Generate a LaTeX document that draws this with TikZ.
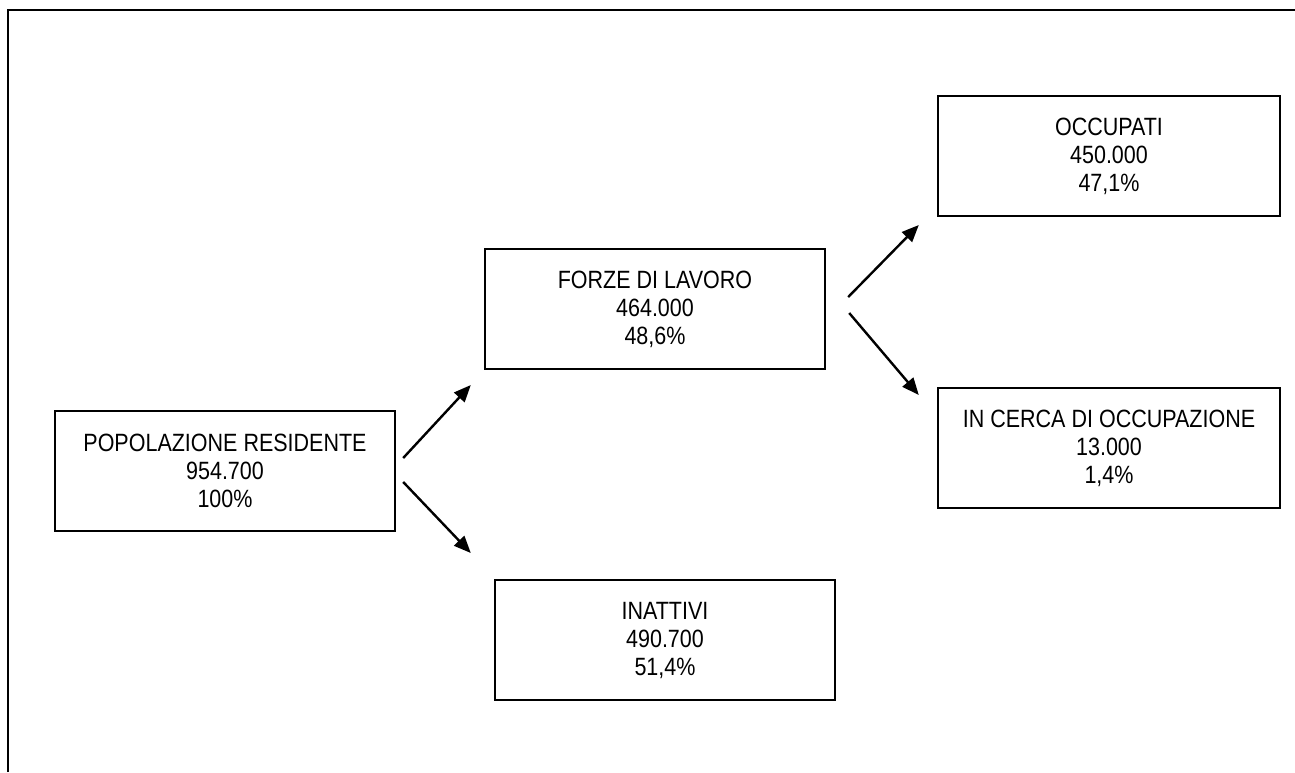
\documentclass[tikz,border=0pt]{standalone}
\usepackage{fontspec}
\setmainfont{Liberation Sans}[FakeStretch=0.86]
\usetikzlibrary{arrows.meta}
\begin{document}
\begin{tikzpicture}[x=1pt,y=-1pt,
  box/.style={draw,line width=2.4pt,minimum width=340pt,minimum height=120pt,align=center,inner sep=0pt,
    font=\fontsize{25}{28}\selectfont},
  conn/.style={line width=2.4pt,-{Triangle[length=17pt,width=14pt]}}]
\useasboundingbox (0,0) rectangle (1295,772);
\draw[line width=2.4pt] (8,772) -- (8,10) -- (1296,10);
\node[box] (pop) at (225,471) {POPOLAZIONE RESIDENTE\\954.700\\100\%};
\node[box] (forze) at (655,309) {FORZE DI LAVORO\\464.000\\48,6\%};
\node[box,minimum width=342pt] (occ) at (1109,156) {OCCUPATI\\450.000\\47,1\%};
\node[box,minimum width=342pt] (cerca) at (1109,448) {IN CERCA DI OCCUPAZIONE\\13.000\\1,4\%};
\node[box] (inatt) at (665,640) {INATTIVI\\490.700\\51,4\%};
\coordinate (s1) at ([shift={(7pt,13pt)}]pop.east);
\coordinate (e1) at ([shift={(-13pt,-76pt)}]forze.west);
\coordinate (s2) at ([shift={(7pt,-11pt)}]pop.east);
\coordinate (e2) at ([shift={(-23pt,87pt)}]inatt.west);
\coordinate (s3) at ([shift={(22pt,12pt)}]forze.east);
\coordinate (e3) at ([shift={(-18pt,-69pt)}]occ.west);
\coordinate (s4) at ([shift={(23pt,-4pt)}]forze.east);
\coordinate (e4) at ([shift={(-18pt,53pt)}]cerca.west);
\draw[conn] (s1) -- (e1);
\draw[conn] (s2) -- (e2);
\draw[conn] (s3) -- (e3);
\draw[conn] (s4) -- (e4);
\end{tikzpicture}
\end{document}
